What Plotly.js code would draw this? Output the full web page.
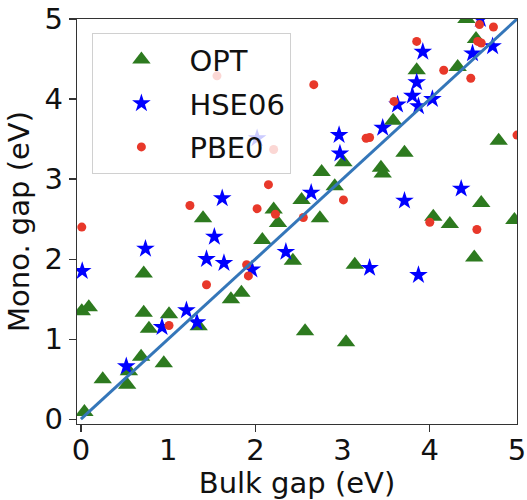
<!DOCTYPE html>
<html>
<head>
<meta charset="utf-8">
<script src="https://cdn.plot.ly/plotly-3.0.1.min.js"></script>
<style>html,body{margin:0;padding:0;background:#fff;}#chart{width:527px;height:500px;}</style>
</head>
<body>
<div id="chart"></div>
<script>
// OPT (green triangles): bulk gap, mono gap
const optBulk = [0.04,0.25,0.53,0.55,0.69,0.95,0.01,0.09,0.72,0.78,1.01,1.35,0.72,1.40,1.72,1.84,2.08,2.43,2.21,2.26,2.53,2.74,2.57,3.04,3.14,2.76,2.91,3.01,3.44,3.46,3.58,3.71,3.85,4.04,4.23,4.51,4.59,4.79,4.97,4.32,4.53,4.42];
const optMono = [0.09,0.50,0.43,0.60,0.78,0.70,1.35,1.40,1.33,1.13,1.31,1.16,1.82,2.51,1.50,1.58,2.24,1.98,2.62,2.45,2.74,2.51,1.10,0.96,1.93,3.09,2.91,3.21,3.14,3.07,3.73,3.33,4.36,2.53,2.44,2.02,2.70,3.48,2.49,4.40,4.75,5.00];

// HSE06 (blue stars)
const hseBulk = [0.015,0.52,0.74,0.93,1.21,1.33,1.44,1.53,1.64,1.62,1.96,2.02,2.35,2.64,2.96,2.97,3.31,3.46,3.63,3.71,3.80,3.85,3.87,3.87,3.92,4.03,4.36,4.49,4.72,4.58];
const hseMono = [1.85,0.66,2.13,1.15,1.36,1.21,2.00,2.28,1.95,2.76,1.87,3.51,2.09,2.83,3.55,3.32,1.89,3.64,3.93,2.73,4.04,4.21,3.91,1.80,4.59,4.00,2.88,4.57,4.66,5.00];

// PBE0 (red circles)
const pbeBulk = [0.01,1.01,1.25,1.44,1.56,1.90,1.92,2.02,2.15,2.21,2.23,2.55,2.67,3.01,3.27,3.31,3.59,3.85,4.00,4.16,4.47,4.54,4.55,4.59,4.57,4.73,5.00];
const pbeMono = [2.40,1.17,2.67,1.68,4.29,1.93,1.79,2.63,2.93,3.37,2.56,2.52,4.18,2.74,3.51,3.52,3.97,4.72,2.46,4.36,4.26,2.37,4.72,4.70,4.93,4.90,3.55];

// y = x reference line
const diagX = [0, 5];
const diagY = [0, 5];

const xTickVals = [0,1,2,3,4,5];
const xTickText = ['0','1','2','3','4','5'];
const xMarkVals = [0,2,4];
const yTickVals = [0,1,2,3,4,5];

const FONT = 'DejaVu Sans, sans-serif';
const xRange = [-0.045, 5.0];
const yRange = [-0.06, 5.0];

const traces = [
  {x: optBulk, y: optMono, type: 'scatter', mode: 'markers', name: 'OPT', legendgroup: 'a',
   marker: {symbol: 'triangle-up', size: 16, color: '#2d7a1f'}},
  {x: hseBulk, y: hseMono, type: 'scatter', mode: 'markers', name: 'HSE06', legendgroup: 'b',
   marker: {symbol: 'star', size: 14, color: '#0000ff'}},
  {x: pbeBulk, y: pbeMono, type: 'scatter', mode: 'markers', name: 'PBE0', legendgroup: 'c',
   marker: {symbol: 'circle', size: 9, color: '#e8382a'}},
  {x: diagX, y: diagY, type: 'scatter', mode: 'lines', showlegend: false, xaxis: 'x2', yaxis: 'y',
   line: {color: '#3476b9', width: 3}}
];

const layout = {
  width: 527, height: 500,
  margin: {l: 77, r: 10, t: 19, b: 76},
  paper_bgcolor: '#ffffff', plot_bgcolor: '#ffffff',
  font: {family: FONT, size: 29, color: '#111'},
  showlegend: true,
  xaxis: {
    range: xRange, tickvals: xTickVals, ticktext: xTickText, ticks: '',
    ticklabeloverflow: 'allow',
    showgrid: false, zeroline: false, showline: true, mirror: true,
    linecolor: '#333', linewidth: 1.2,
    tickfont: {family: FONT, size: 29, color: '#111'},
    title: {text: 'Bulk gap (eV)', font: {family: FONT, size: 29, color: '#111'}, standoff: 4}
  },
  xaxis2: {
    range: xRange, overlaying: 'x', side: 'bottom', tickvals: xMarkVals, ticks: 'outside',
    ticklen: 7, tickwidth: 1.2, tickcolor: '#333', showticklabels: false,
    showgrid: false, zeroline: false, showline: false
  },
  yaxis: {
    range: yRange, tickvals: yTickVals, ticks: 'outside', ticklen: 7, tickwidth: 1.2, tickcolor: '#333',
    showgrid: false, zeroline: false, showline: true, mirror: true,
    linecolor: '#333', linewidth: 1.2,
    tickfont: {family: FONT, size: 29, color: '#111'},
    title: {text: 'Mono. gap (eV)', font: {family: FONT, size: 29, color: '#111'}, standoff: 6}
  },
  legend: {
    x: 0.035, y: 0.965, xanchor: 'left', yanchor: 'top',
    bgcolor: 'rgba(255,255,255,0.8)', bordercolor: '#d0d0d0', borderwidth: 1,
    font: {family: FONT, size: 29, color: '#111'},
    traceorder: 'grouped', tracegroupgap: 3, itemwidth: 86
  }
};

Plotly.newPlot('chart', traces, layout, {displayModeBar: false, staticPlot: true});
</script>
</body>
</html>
